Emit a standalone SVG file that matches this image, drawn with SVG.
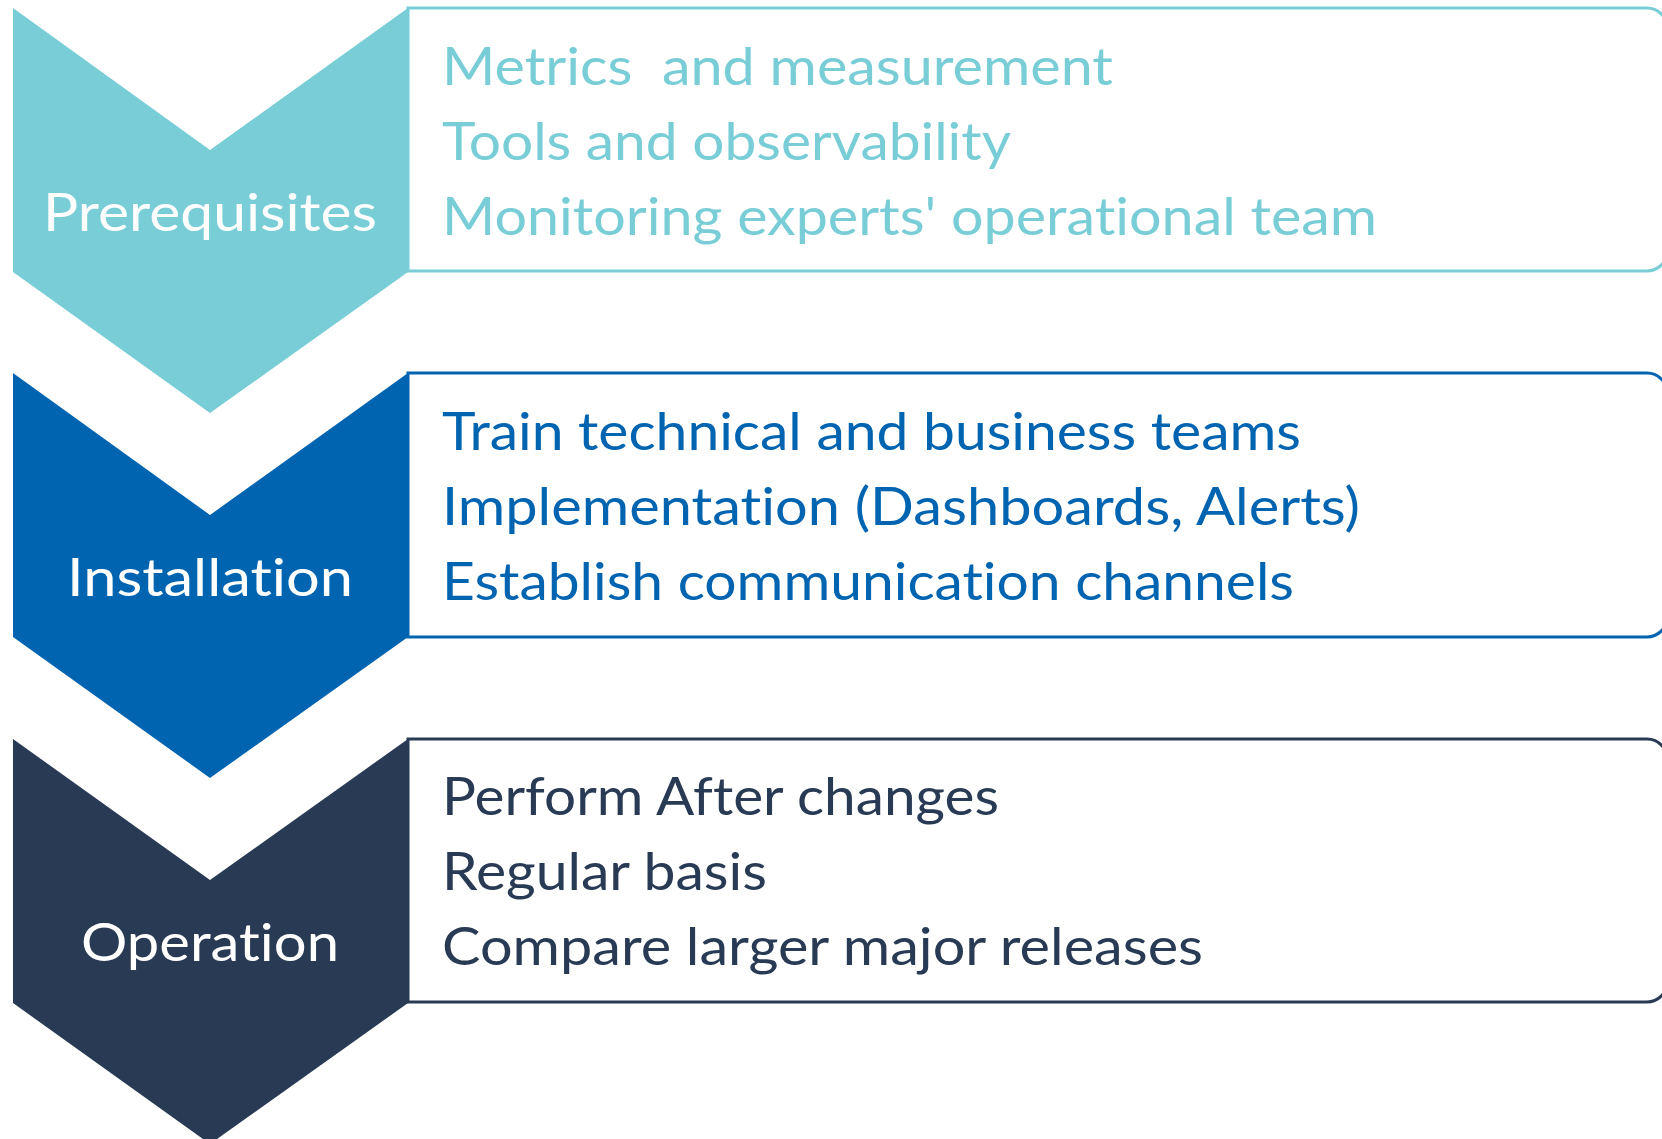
<svg xmlns="http://www.w3.org/2000/svg" width="1662" height="1139" viewBox="0 0 1662 1139">
<style>
  .lbl{font-family:Lato,"Liberation Sans",sans-serif;font-size:53px;fill:#ffffff;text-anchor:middle;font-variant-ligatures:none;font-feature-settings:"liga" 0,"dlig" 0}
  .txt{font-family:Lato,"Liberation Sans",sans-serif;font-size:53px;font-variant-ligatures:none;font-feature-settings:"liga" 0,"dlig" 0}
  .box{fill:#ffffff;stroke-width:3}
  .c1{fill:#78CDD7}.s1{stroke:#78CDD7}.t1{fill:#78CDD7}
  .c2{fill:#0064B0}.s2{stroke:#0064B0}.t2{fill:#0064B0}
  .c3{fill:#283A54}.s3{stroke:#283A54}.t3{fill:#283A54}
</style>
<rect width="1662" height="1139" fill="#ffffff"/>
<g id="connectors"></g>
<g id="prerequisites">
  <path class="box s1" d="M408,8 H1647 A20,20 0 0 1 1667,28 V251 A20,20 0 0 1 1647,271 H408 Z"/>
  <path class="c1" d="M13,8 L210,150 L408,8 L408,272 L210,413 L13,272 Z"/>
  <text class="lbl" x="210" y="231" textLength="334" lengthAdjust="spacingAndGlyphs">Prerequisites</text>
  <text class="txt t1" x="442" y="85" textLength="671" lengthAdjust="spacingAndGlyphs" xml:space="preserve">Metrics  and measurement</text>
  <text class="txt t1" x="442" y="160" textLength="569" lengthAdjust="spacingAndGlyphs">Tools and observability</text>
  <text class="txt t1" x="442" y="235" textLength="935" lengthAdjust="spacingAndGlyphs">Monitoring experts' operational team</text>
</g>
<g id="installation">
  <path class="box s2" d="M408,373 H1647 A20,20 0 0 1 1667,393 V617 A20,20 0 0 1 1647,637 H408 Z"/>
  <path class="c2" d="M13,373 L210,515 L408,373 L408,637 L210,778 L13,637 Z"/>
  <text class="lbl" x="210" y="596" textLength="286" lengthAdjust="spacingAndGlyphs">Installation</text>
  <text class="txt t2" x="442" y="450" textLength="859" lengthAdjust="spacingAndGlyphs">Train technical and business teams</text>
  <text class="txt t2" x="442" y="525" textLength="918" lengthAdjust="spacingAndGlyphs">Implementation (Dashboards, Alerts)</text>
  <text class="txt t2" x="442" y="600" textLength="852" lengthAdjust="spacingAndGlyphs">Establish communication channels</text>
</g>
<g id="operation">
  <path class="box s3" d="M408,739 H1647 A20,20 0 0 1 1667,759 V982 A20,20 0 0 1 1647,1002 H408 Z"/>
  <path class="c3" d="M13,739 L210,880 L408,739 L408,1003 L210,1144 L13,1003 Z"/>
  <text class="lbl" x="210" y="961" textLength="258" lengthAdjust="spacingAndGlyphs">Operation</text>
  <text class="txt t3" x="442" y="815" textLength="557" lengthAdjust="spacingAndGlyphs">Perform After changes</text>
  <text class="txt t3" x="442" y="890" textLength="325" lengthAdjust="spacingAndGlyphs">Regular basis</text>
  <text class="txt t3" x="442" y="965" textLength="761" lengthAdjust="spacingAndGlyphs">Compare larger major releases</text>
</g>
</svg>
